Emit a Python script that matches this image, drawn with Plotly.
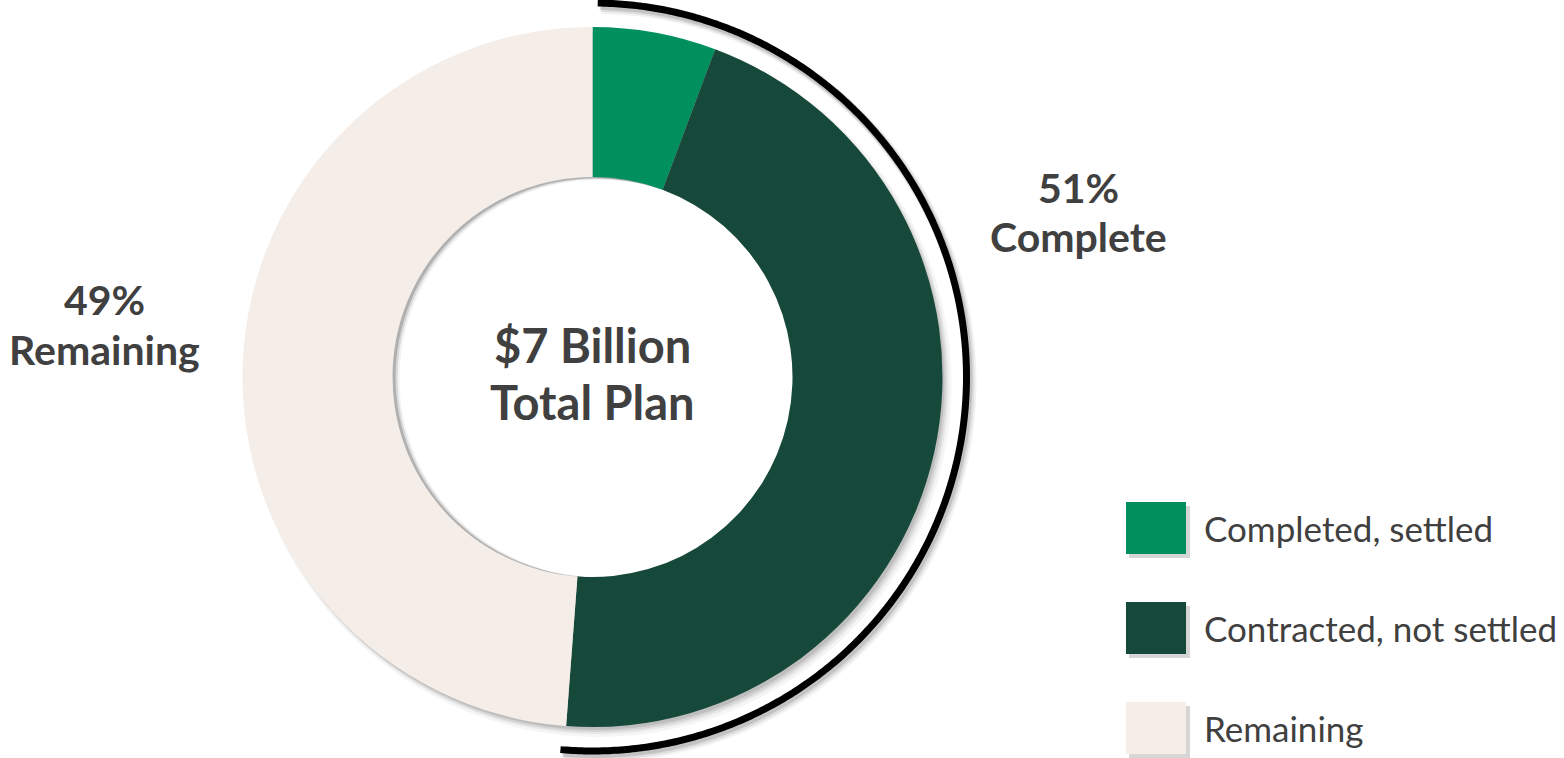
import numpy as np
import plotly.graph_objects as go

categories = ["Completed, settled", "Contracted, not settled", "Remaining"]
values = [5.7, 45.5, 48.8]
colors = ["#00905e", "#17493a", "#f4ede8"]
center_lines = ["$7 Billion", "Total Plan"]
complete_label = ["51%", "Complete"]
remaining_label = ["49%", "Remaining"]

W, H = 1564, 758
cx, cy, R, r_hole = 592.5, 377, 350, 200
arc_r = 374
FONT = "Lato"
TXT = "#404040"

fig = go.Figure()

# pie
fig.add_trace(go.Pie(
    labels=categories, values=values, hole=r_hole / R, sort=False,
    direction="clockwise", rotation=0,
    marker=dict(colors=colors, line=dict(width=0)),
    textinfo="none", hoverinfo="label+percent", showlegend=False,
    domain=dict(x=[(cx - R) / W, (cx + R) / W], y=[1 - (cy + R) / H, 1 - (cy - R) / H]),
))

# bracket arc around the completed share
done = (values[0] + values[1]) / sum(values)
theta = np.linspace(np.radians(0.8), 2 * np.pi * done + np.radians(0.6), 400)
ax_ = cx + arc_r * np.sin(theta)
ay_ = cy - arc_r * np.cos(theta)
for off, w, op in [(4, 12, 0.05), (3, 10, 0.08), (2, 8, 0.12)]:
    fig.add_trace(go.Scatter(x=ax_ + off, y=ay_ + off + 1, mode="lines",
                             line=dict(color=f"rgba(0,0,0,{op})", width=w, simplify=False),
                             hoverinfo="skip", showlegend=False))
fig.add_trace(go.Scatter(x=ax_, y=ay_, mode="lines",
                         line=dict(color="black", width=7, simplify=False),
                         hoverinfo="skip", showlegend=False))

shapes = []
# soft drop shadow of the donut
for off, grow, op in [(6, 3, 0.04), (5, 1, 0.06), (4, 0, 0.08), (3, -1, 0.1)]:
    shapes.append(dict(type="circle", xref="x", yref="y", layer="below",
                       x0=cx - R - grow + off, x1=cx + R + grow + off,
                       y0=cy - R - grow + off + 1, y1=cy + R + grow + off + 1,
                       fillcolor=f"rgba(0,0,0,{op})", line=dict(width=0)))
# inner shadow of the hole
shapes.append(dict(type="circle", xref="x", yref="y", layer="below",
                   x0=cx - r_hole, x1=cx + r_hole, y0=cy - r_hole, y1=cy + r_hole,
                   fillcolor="#b0b0b0", line=dict(width=0)))
for off, op in [(3, 0.5), (5, 0.7), (7, 1.0)]:
    shapes.append(dict(type="circle", xref="x", yref="y", layer="below",
                       x0=cx - r_hole + off, x1=cx + r_hole + off - 1,
                       y0=cy - r_hole + off * 0.4, y1=cy + r_hole,
                       fillcolor=f"rgba(255,255,255,{op})", line=dict(width=0)))

annotations = []
# legend
for i, (cat, col) in enumerate(zip(categories, colors)):
    y0 = 502 + 100 * i
    shapes.append(dict(type="rect", xref="x", yref="y", x0=1129, x1=1190, y0=y0 + 4, y1=y0 + 56,
                       fillcolor="rgba(0,0,0,0.16)", line=dict(width=0), layer="below"))
    shapes.append(dict(type="rect", xref="x", yref="y", x0=1126, x1=1186, y0=y0, y1=y0 + 52,
                       fillcolor=col, line=dict(width=0)))
    annotations.append(dict(x=1202, y=y0 + 26, xref="x", yref="y", text=cat, showarrow=False,
                            xanchor="left", yanchor="middle",
                            font=dict(family=FONT, size=35, color=TXT)))


def bold_lines(lines, x, ys, size):
    for txt, yy in zip(lines, ys):
        annotations.append(dict(x=x, y=yy, xref="x", yref="y", text=f"<b>{txt}</b>",
                                showarrow=False, xanchor="center", yanchor="middle",
                                font=dict(family=FONT, size=size, color=TXT)))


bold_lines(center_lines, cx, [345, 402], 47)
bold_lines(complete_label, 1078, [187, 236], 41)
bold_lines(remaining_label, 104, [299, 349], 41)

fig.update_layout(
    width=W, height=H, margin=dict(l=0, r=0, t=0, b=0),
    paper_bgcolor="white", plot_bgcolor="rgba(0,0,0,0)",
    xaxis=dict(range=[0, W], visible=False, domain=[0, 1], fixedrange=True),
    yaxis=dict(range=[H, 0], visible=False, domain=[0, 1], fixedrange=True),
    shapes=shapes, annotations=annotations, showlegend=False,
)

fig.write_html("out.html", config={"displayModeBar": False},
               post_script="document.body.style.margin='0px';")
